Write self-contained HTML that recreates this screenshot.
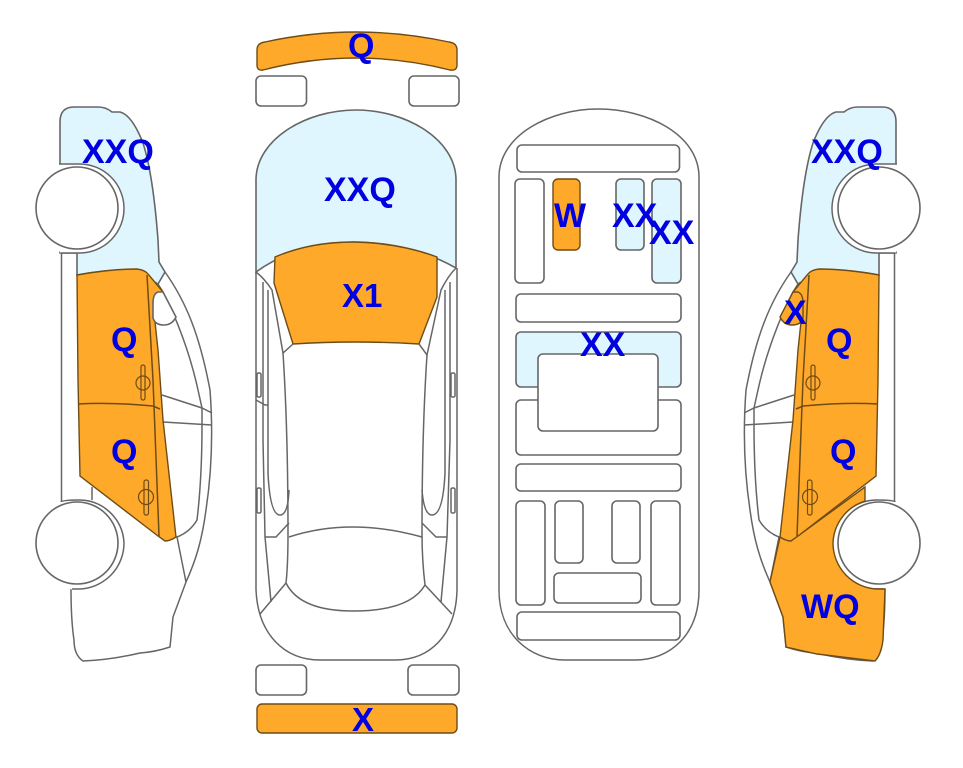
<!DOCTYPE html>
<html><head><meta charset="utf-8"><style>
html,body{margin:0;padding:0;background:#fff}
svg{display:block;filter:blur(0.3px)}
text{font-family:"Liberation Sans",sans-serif;font-weight:bold;font-size:34px;fill:#0000e0}
.l{fill:none;stroke:#666;stroke-width:1.5}
.w{fill:#fff;stroke:#666;stroke-width:1.6}
.b{fill:#dff6ff;stroke:#666;stroke-width:1.6}
.o{fill:#ffa92b;stroke:#6e4c16;stroke-width:1.4}
.f{stroke:none}
</style></head><body>
<svg width="963" height="768" viewBox="0 0 963 768" xmlns="http://www.w3.org/2000/svg">
<defs>
<g id="sideBase">
  <path class="b" d="M60,165V122Q60,107 74,107H98Q106,107 112,112H120Q132,115 143,143C150,165 155,200 158,240L159,262L165,272L158,284Q148,278 137,270Q110,269 77,275V253H60Z"/>
  <path class="l" d="M61.500,253V502"/>
  <path class="l" d="M92,487V503"/>
  <path class="l" d="M165,272C187,303 200,337 210,390C213,430 212,470 206,510C202,540 196,560 186,582L173,617L170,647Q155,652 140,653Q110,660 83,661Q74,655 74,640Q71,620 71,589"/>
  <path class="l" d="M158,284L163,292C176,317 190,353 198,390L202,408L202,425C202,460 200,495 197,520Q190,532 177,537L186,582"/>
  <path class="l" d="M162,395L202,408L212,413M163,422L212,425"/>
  <path class="f" fill="#fff" d="M59,164H80A44.500,44.500 0 0 1 124,208A44.500,44.500 0 0 1 80,253H61L20,208Z"/>
  <path class="l" d="M59,164H80A44.500,44.500 0 0 1 124,208A44.500,44.500 0 0 1 80,253H61"/>
  <path class="f" fill="#fff" d="M61,502L80,498A46,46 0 0 1 124,543A46,46 0 0 1 72,590L30,543Z"/>
  <path class="l" d="M61,502Q61,500 80,500A45,45 0 0 1 124,543A46,46 0 0 1 78,589H72"/>
  <circle class="w" cx="77" cy="208" r="41"/>
  <circle class="w" cx="77" cy="543" r="41"/>
</g>
<g id="doors">
  <path class="o" d="M77,275Q110,269 137,269Q145,270 148,274L163,292L153,303L158,350L163,420L176,537Q170,541 165,541L158,536L80,476L78,380Z"/>
  <path class="l" style="stroke:#6e4c16" d="M147,275L153,380L159,536M78,404Q110,402 153,406L160,409"/>
  <g style="stroke:#6e4c16" fill="none" stroke-width="1.200">
    <rect x="141" y="365" width="4" height="35" rx="2"/><circle cx="143" cy="383" r="7"/>
    <rect x="144" y="480" width="4.500" height="35" rx="2"/><circle cx="146" cy="497" r="7.500"/>
  </g>
</g>
</defs>

<!-- left side -->
<use href="#sideBase"/>
<use href="#doors"/>
<path class="w" d="M153,303Q153,294 158,292H163L176,317Q172,325 164,325Q155,325 153,318Z"/>

<!-- right side -->
<g transform="translate(956,0) scale(-1,1)">
  <use href="#sideBase"/>
  <path class="o" d="M176,537L186,582L173,617L170,647L139,654L81,661Q75,655 73,640L71,589H79A46,46 0 0 0 123,543A46,46 0 0 0 91,501V487L158,536Z"/>
  <use href="#doors"/>
  <path class="o" d="M153,303Q153,294 158,292H163L176,317Q172,325 164,325Q155,325 153,318Z"/>
</g>

<!-- top view -->
<path class="o" d="M257,50Q257,43 265,42Q356,22 449,42Q457,43 457,50V65Q457,71 450,70Q356,46 263,70Q257,71 257,65Z"/>
<rect class="w" x="256" y="76" width="50.500" height="30" rx="5"/>
<rect class="w" x="409" y="76" width="50" height="30" rx="5"/>
<path class="b" d="M256,272V180C256,140 305,110 356,110C407,110 456,140 456,180V268Q410,242 353,242Q296,243 256,272Z"/>
<path class="l" d="M256,272V590C258,635 285,660 320,660H395C430,660 456,635 457,590V268"/>
<path class="o" d="M275,257Q310,242 353,242Q400,243 437,257V297L419,344Q355,340 293,344L274,283Z"/>
<path class="l" d="M256,272Q264,278 272,290L283,353L293,344M456,268Q448,276 441,290L427,355L419,344"/>
<path class="l" d="M283,353Q288,430 288,533Q288,565 286,583Q300,611 353,611Q410,611 425,585Q422,560 422,533Q422,430 427,355"/>
<path class="l" d="M263,282V440L265,537L271,602M450,282V440L447,537L441,602"/>
<path class="l" d="M268,290V473Q270,515 280,515Q288,515 289,490M445,290V473Q443,515 432,515Q424,515 422,490"/>
<path class="l" d="M256,400L265,405H268M265,537H276L289,523M447,537H436L422,523"/>
<path class="l" d="M289,537Q350,517 422,537"/>
<path class="l" d="M286,583L260,614M425,585L452,614"/>
<rect class="l" x="257" y="373" width="4" height="24" rx="1.500"/>
<rect class="l" x="257" y="488" width="4" height="25" rx="1.500"/>
<rect class="l" x="451" y="373" width="4" height="24" rx="1.500"/>
<rect class="l" x="451" y="488" width="4" height="25" rx="1.500"/>
<rect class="w" x="256" y="665" width="50.500" height="30" rx="5"/>
<rect class="w" x="408" y="665" width="51" height="30" rx="5"/>
<rect class="o" x="257" y="704" width="200" height="29" rx="5"/>

<!-- interior view -->
<path class="l" d="M499,177C499,135 550,109 598,109C648,109 699,135 699,177V590C699,635 670,660 635,660H565C530,660 499,635 499,590Z"/>
<rect class="w" x="517" y="145" width="162.500" height="27" rx="5"/>
<rect class="w" x="515" y="179" width="29" height="104" rx="5"/>
<rect class="o" x="553" y="179" width="27" height="71" rx="5"/>
<rect class="b" x="616" y="179" width="28" height="71" rx="5"/>
<rect class="b" x="652" y="179" width="29" height="104" rx="5"/>
<rect class="w" x="516" y="294" width="165" height="28" rx="5"/>
<rect class="b" x="516" y="332" width="165" height="55" rx="5"/>
<rect class="w" x="516" y="400" width="165" height="55" rx="5"/>
<rect class="w" x="538" y="354" width="120" height="77" rx="5"/>
<rect class="w" x="516" y="464" width="165" height="27" rx="5"/>
<rect class="w" x="516" y="501" width="29" height="104" rx="5"/>
<rect class="w" x="555" y="501" width="28" height="62" rx="5"/>
<rect class="w" x="612" y="501" width="28" height="62" rx="5"/>
<rect class="w" x="651" y="501" width="29" height="104" rx="5"/>
<rect class="w" x="554" y="573" width="87" height="30" rx="5"/>
<rect class="w" x="517" y="612" width="163" height="28" rx="5"/>

<!-- labels -->
<text x="82" y="163">XXQ</text>
<text x="111" y="351">Q</text>
<text x="111" y="463">Q</text>
<text x="348" y="57">Q</text>
<text x="324" y="201">XXQ</text>
<text x="342" y="307" style="font-size:33px">X1</text>
<text x="352" y="731" style="font-size:33px">X</text>
<text x="554" y="227">W</text>
<text x="612" y="227">XX</text>
<text x="649" y="244">XX</text>
<text x="580" y="356">XX</text>
<text x="811" y="163">XXQ</text>
<text x="784" y="324">X</text>
<text x="826" y="352">Q</text>
<text x="830" y="463">Q</text>
<text x="801" y="618">WQ</text>
</svg>
</body></html>
